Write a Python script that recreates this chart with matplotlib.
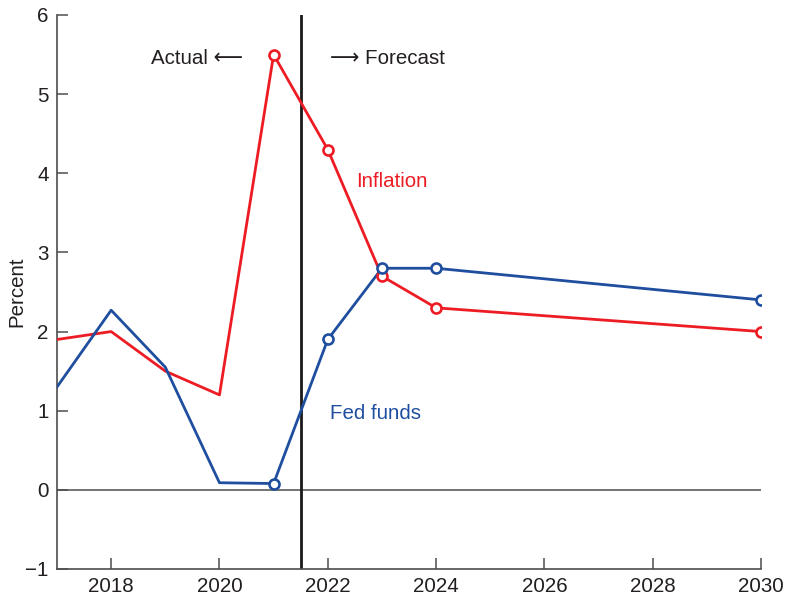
import matplotlib
matplotlib.use("Agg")
import matplotlib.pyplot as plt

years = [2017, 2018, 2019, 2020, 2021, 2022, 2023, 2024, 2030]
inflation = [1.9, 2.0, 1.5, 1.2, 5.5, 4.3, 2.7, 2.3, 2.0]
fed_funds = [1.3, 2.27, 1.55, 0.09, 0.08, 1.9, 2.8, 2.8, 2.4]
marker_years = [2021, 2022, 2023, 2024, 2030]
xticks = [2018, 2020, 2022, 2024, 2026, 2028, 2030]
yticks = [-1, 0, 1, 2, 3, 4, 5, 6]
split_year = 2021.5

RED = "#ED1C24"
BLUE = "#1F4E9F"
TXT = "#231F20"
FS = 14.8

plt.rcParams['font.family'] = ['Liberation Sans', 'DejaVu Sans']

fig = plt.figure(figsize=(7.89, 6.0), dpi=100)
ax = fig.add_axes([57/789, 31/600, (761-57)/789, (569-15)/600])

ax.axhline(0, color="#4d4d4d", lw=1.1, zorder=1)
ax.axvline(split_year, color="#1a1a1a", lw=2.0, zorder=2)

for vals, col in ((inflation, RED), (fed_funds, BLUE)):
    ax.plot(years, vals, color=col, lw=2.0, zorder=3)
    mv = [v for y, v in zip(years, vals) if y in marker_years]
    ax.plot(marker_years, mv, ls='none', marker='o', ms=7.2, mfc='white',
            mec=col, mew=1.9, zorder=4)

ax.set_xlim(2017, 2030)
ax.set_ylim(-1, 6)
ax.set_xticks(xticks)
ax.set_yticks(yticks)
ax.set_yticklabels([f"{t}".replace("-", "\u2212") for t in yticks])

for s in ("top", "right"):
    ax.spines[s].set_visible(False)
for s in ("left", "bottom"):
    ax.spines[s].set_color("#4d4d4d")
    ax.spines[s].set_linewidth(1.2)

ax.tick_params(direction='in', length=8, width=1.1, color="#4d4d4d",
               labelsize=FS, labelcolor=TXT, pad=6)
ax.set_ylabel("Percent", fontsize=FS, color=TXT)
ax.yaxis.set_label_coords((26-57)/704, 0.5)

ax.text(2020.43, 5.45, "Actual \u27f5", ha='right', va='center', fontsize=FS, color=TXT)
ax.text(2022.04, 5.45, "\u27f6 Forecast", ha='left', va='center', fontsize=FS, color=TXT)
ax.text(2022.52, 3.9, "Inflation", ha='left', va='center', fontsize=FS, color=RED)
ax.text(2022.04, 0.97, "Fed funds", ha='left', va='center', fontsize=FS, color=BLUE)

fig.savefig("out.png", dpi=100)
